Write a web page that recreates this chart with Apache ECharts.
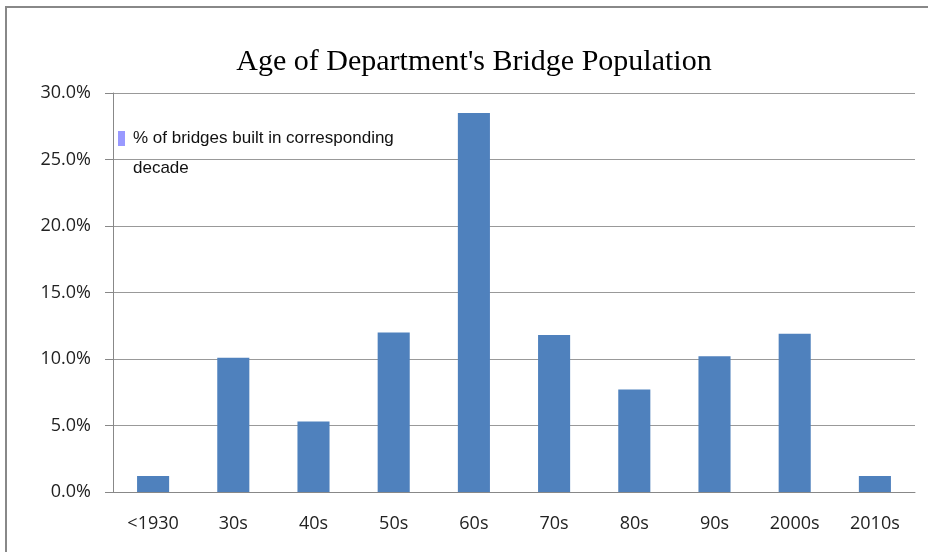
<!DOCTYPE html>
<html>
<head>
<meta charset="utf-8">
<script src="https://cdn.jsdelivr.net/npm/echarts@6/dist/echarts.min.js"></script>
<style>
  html, body { margin: 0; padding: 0; background: #fff; }
  #chart { width: 928px; height: 552px; }
</style>
</head>
<body>
<div id="chart"></div>
<script>
let decades = ['<1930', '30s', '40s', '50s', '60s', '70s', '80s', '90s', '2000s', '2010s'];
let pctBuilt = [1.2, 10.1, 5.3, 12.0, 28.5, 11.8, 7.7, 10.2, 11.9, 1.2];
let seriesName = '% of bridges built in corresponding';
let seriesNameTail = 'decade';

let chart = echarts.init(document.getElementById('chart'));

let option = {
  animation: false,
  title: {
    text: "Age of Department's Bridge Population",
    left: 469,
    textAlign: 'center',
    top: 42,
    textStyle: { fontFamily: 'Liberation Serif', fontWeight: 'normal', fontSize: 30, color: '#000' }
  },
  graphic: [{
    type: 'rect',
    shape: { x: 6, y: 7, width: 940, height: 560 },
    style: { fill: 'none', stroke: '#888', lineWidth: 2 },
    silent: true
  }, {
    type: 'text',
    left: 133,
    top: 160,
    style: { text: seriesNameTail, font: '17px "Liberation Sans"', fill: '#111' },
    silent: true
  }],
  legend: {
    left: 113,
    top: 125,
    itemWidth: 7,
    itemHeight: 15,
    itemGap: 0,
    textStyle: { fontFamily: 'Liberation Sans', fontSize: 17, color: '#111', padding: [0, 0, 0, 3] },
    data: [{ name: seriesName, icon: 'rect', itemStyle: { color: '#9999ff' } }]
  },
  grid: { left: 113, right: 13, top: 93, bottom: 60 },
  xAxis: {
    type: 'category',
    data: decades,
    axisLine: { lineStyle: { color: '#888' } },
    axisTick: { length: 8, lineStyle: { color: '#888' } },
    axisLabel: { fontFamily: 'Open Sans', fontSize: 18, color: '#222', margin: 23 }
  },
  yAxis: {
    type: 'value',
    min: 0,
    max: 30,
    interval: 5,
    axisLine: { show: true, lineStyle: { color: '#888' } },
    axisTick: { show: true, inside: false, length: 8, lineStyle: { color: '#888' } },
    splitLine: { lineStyle: { color: '#999' } },
    axisLabel: {
      fontFamily: 'Open Sans', fontSize: 18, color: '#222', margin: 22,
      formatter: v => v.toFixed(1) + '%'
    }
  },
  series: [{
    name: seriesName,
    type: 'bar',
    data: pctBuilt,
    barWidth: '40%',
    itemStyle: { color: '#4f81bd' }
  }]
};

chart.setOption(option);
</script>
</body>
</html>
